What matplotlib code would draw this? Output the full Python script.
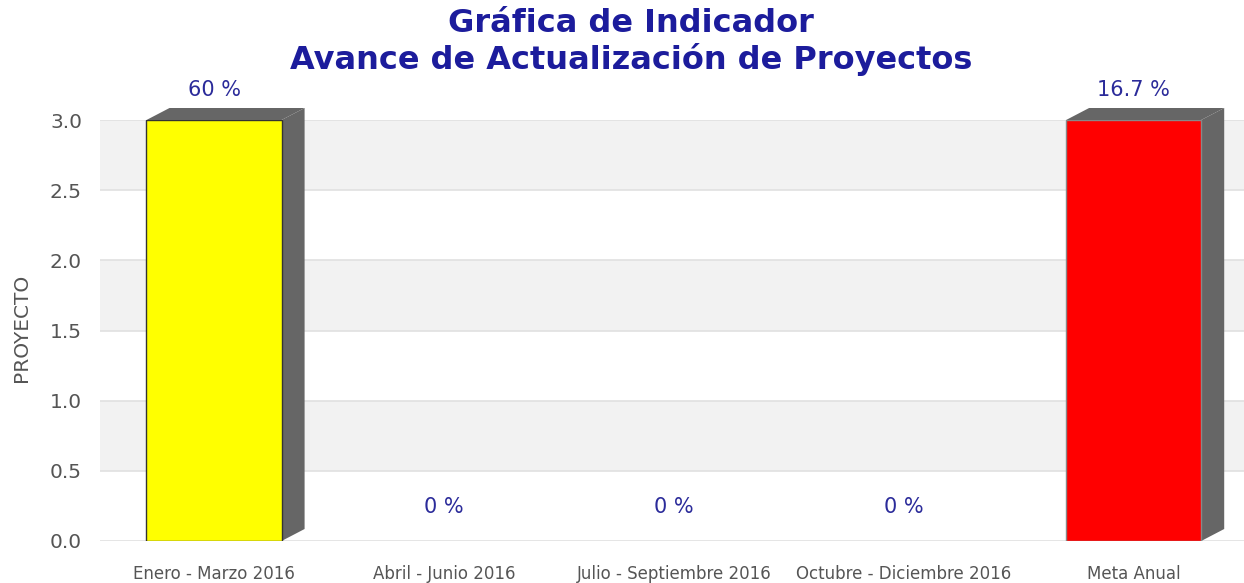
import matplotlib.pyplot as plt
from matplotlib.patches import Polygon

# datos del indicador
periodos = ["Enero - Marzo 2016", "Abril - Junio 2016", "Julio - Septiembre 2016",
            "Octubre - Diciembre 2016", "Meta Anual"]
valores = [3.0, 0.0, 0.0, 0.0, 3.0]
etiquetas = ["60 %", "0 %", "0 %", "0 %", "16.7 %"]
colores = ["#ffff00", "#ffff00", "#ffff00", "#ffff00", "#ff0000"]
bordes = ["#333333", "#333333", "#333333", "#333333", "#888888"]

fig = plt.figure(figsize=(12.44, 5.83), dpi=100)
ax = fig.add_axes([100 / 1244, 42 / 583, 1144 / 1244, 421 / 583])

ax.set_ylim(0, 3.0)
ax.set_xlim(-0.496, 4.48)

# bandas alternas de fondo
for i in range(6):
    y0 = i * 0.5
    if i % 2 == 1:
        ax.axhspan(y0, y0 + 0.5, color="#f2f2f2", zorder=0, lw=0)
for i in range(7):
    ax.axhline(i * 0.5, color="#e0e0e0", lw=1.2, zorder=0.5)

ancho = 135 / 229.75
dx = 23 / 229.75
dy = 12 / (421 / 3.0)

for i, v in enumerate(valores):
    if v > 0:
        ax.bar(i, v, width=ancho, color=colores[i], edgecolor=bordes[i], lw=1, zorder=2)
        x1 = i + ancho / 2
        x0 = i - ancho / 2
        lado = Polygon([(x1, 0), (x1 + dx, dy), (x1 + dx, v + dy), (x1, v)],
                       closed=True, fc="#666666", ec="none", zorder=1.5, clip_on=False)
        tapa = Polygon([(x0, v), (x0 + dx, v + dy), (x1 + dx, v + dy), (x1, v)],
                       closed=True, fc="#666666", ec="none", zorder=1.5, clip_on=False)
        ax.add_patch(lado)
        ax.add_patch(tapa)
        ax.text(i, v + dy + 0.06, etiquetas[i], ha="center", va="bottom",
                fontsize=15, color="#2b2b9a")
    else:
        ax.text(i, 0.24, etiquetas[i], ha="center", va="center",
                fontsize=15, color="#2b2b9a")

ax.set_xticks(range(len(periodos)))
ax.set_xticklabels(periodos, fontsize=12, color="#555555")
ax.set_yticks([0, 0.5, 1.0, 1.5, 2.0, 2.5, 3.0])
ax.set_yticklabels(["0.0", "0.5", "1.0", "1.5", "2.0", "2.5", "3.0"], fontsize=14.5, color="#555555")
ax.tick_params(axis="both", length=0)
ax.tick_params(axis="x", pad=17)
ax.tick_params(axis="y", pad=13)
for s in ax.spines.values():
    s.set_visible(False)

fig.text(22 / 1244, 1 - 328 / 583, "PROYECTO", rotation=90, ha="center", va="center",
         fontsize=14.5, color="#555555")
fig.text(631 / 1244, 1 - 23 / 583, "Gráfica de Indicador", ha="center", va="center",
         fontsize=23, fontweight="bold", color="#1c1c9c")
fig.text(631 / 1244, 1 - 59 / 583, "Avance de Actualización de Proyectos", ha="center", va="center",
         fontsize=23, fontweight="bold", color="#1c1c9c")

fig.savefig("out.png", dpi=100)
